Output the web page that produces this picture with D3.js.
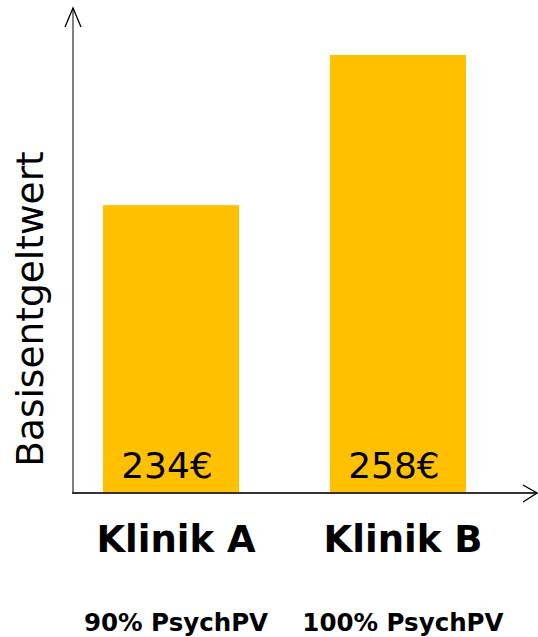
<!DOCTYPE html>
<html>
<head>
<meta charset="utf-8">
<script src="https://cdn.jsdelivr.net/npm/d3@7"></script>
<style>
  html, body { margin: 0; padding: 0; background: #fff; }
  svg { display: block; }
  text { font-family: "DejaVu Sans", Verdana, sans-serif; }
</style>
</head>
<body>
<script>
// Basisentgeltwert per Klinik
const kliniken = ["Klinik A", "Klinik B"];
const psychPV = ["90% PsychPV", "100% PsychPV"];
const basisentgelt = [234, 258];
const yDomain = [188, 258];

const W = 538, H = 637;
const svg = d3.select("body").append("svg")
  .attr("width", W).attr("height", H);

const axisX = 73, axisY = 493;

const x = d3.scaleBand()
  .domain(kliniken)
  .range([axisX, 496])
  .paddingInner(0.4)
  .paddingOuter(0.132);

const y = d3.scaleLinear()
  .domain(yDomain)
  .range([axisY, 55]);

// Bars
svg.selectAll("rect.bar")
  .data(kliniken)
  .join("rect")
  .attr("class", "bar")
  .attr("x", d => x(d))
  .attr("width", x.bandwidth())
  .attr("y", (d, i) => y(basisentgelt[i]))
  .attr("height", (d, i) => axisY - y(basisentgelt[i]))
  .attr("fill", "#FFC000");

// Value labels inside bars
svg.selectAll("text.val")
  .data(kliniken)
  .join("text")
  .attr("class", "val")
  .attr("x", d => x(d) + x.bandwidth() / 2 - 4)
  .attr("y", 478)
  .attr("text-anchor", "middle")
  .attr("font-size", 36)
  .attr("fill", "#000")
  .text((d, i) => basisentgelt[i] + "€");

// Axes with open arrowheads
svg.append("line")
  .attr("x1", axisX).attr("y1", axisY)
  .attr("x2", axisX).attr("y2", 8)
  .attr("stroke", "#7f7f7f").attr("stroke-width", 2);
svg.append("path")
  .attr("d", `M${axisX - 8},27L${axisX},8L${axisX + 8},27`)
  .attr("fill", "none").attr("stroke", "#000").attr("stroke-width", 1.3);

svg.append("line")
  .attr("x1", axisX - 1).attr("y1", axisY)
  .attr("x2", 537).attr("y2", axisY)
  .attr("stroke", "#333").attr("stroke-width", 2);
svg.append("path")
  .attr("d", `M523,485L537,${axisY}L523,502`)
  .attr("fill", "none").attr("stroke", "#000").attr("stroke-width", 1.3);

// Category labels
const xAxis = d3.axisBottom(x).tickSize(0).tickPadding(0);
const gx = svg.append("g")
  .attr("transform", `translate(5,${axisY})`)
  .call(xAxis);
gx.select(".domain").remove();
gx.selectAll(".tick text")
  .attr("dy", null)
  .attr("y", 59)
  .attr("font-family", "DejaVu Sans, Verdana, sans-serif")
  .attr("font-size", 37)
  .attr("font-weight", "bold")
  .attr("fill", "#000");

// PsychPV sub-labels
svg.selectAll("text.sub")
  .data(kliniken)
  .join("text")
  .attr("class", "sub")
  .attr("x", d => x(d) + x.bandwidth() / 2 + 5)
  .attr("y", 631)
  .attr("text-anchor", "middle")
  .attr("font-size", 24.5)
  .attr("font-weight", "bold")
  .attr("fill", "#000")
  .text((d, i) => psychPV[i]);

// Y axis title
svg.append("text")
  .attr("transform", "translate(43,309) rotate(-90)")
  .attr("text-anchor", "middle")
  .attr("font-size", 37.5)
  .attr("fill", "#000")
  .text("Basisentgeltwert");
</script>
</body>
</html>
